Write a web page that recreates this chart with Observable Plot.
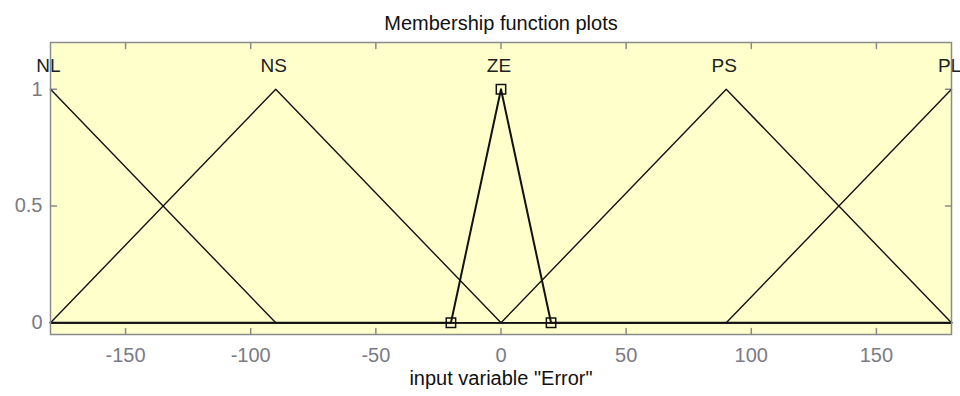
<!DOCTYPE html>
<html>
<head>
<meta charset="utf-8">
<script src="https://cdn.jsdelivr.net/npm/d3@7"></script>
<script src="https://cdn.jsdelivr.net/npm/@observablehq/plot@0.6"></script>
<style>
  html, body { margin: 0; padding: 0; background: #fff; }
  #chart svg { display: block; }
</style>
</head>
<body>
<div id="chart"></div>
<script>
// Membership functions of the input variable "Error" (triangular MFs)
const mfNames = ["NL", "NS", "ZE", "PS", "PL"];
const mfPeaks = [-180, -90, 0, 90, 180];
// Vertices of each membership curve across the universe [-180, 180]
const mfX = [
  [-180, -90, 180],
  [-180, -90, 0, 180],
  [-180, -20, 0, 20, 180],
  [-180, 0, 90, 180],
  [-180, 90, 180]
];
const mfY = [
  [1, 0, 0],
  [0, 1, 0, 0],
  [0, 0, 1, 0, 0],
  [0, 0, 1, 0],
  [0, 0, 1]
];
// Currently selected MF (ZE) is drawn with handles at its vertices
const selectedName = "ZE";
const handleX = [-20, 0, 20];
const handleY = [0, 1, 0];

const xTicks = [-150, -100, -50, 0, 50, 100, 150];
const yTicks = [0, 0.5, 1];
const xDomain = [-180, 180];
const yDomain = [-0.05, 1.2];
const labelLevel = 1.1;

const titleText = "Membership function plots";
const xLabelText = 'input variable "Error"';

// Build long-format tables for the library
const curves = mfNames.flatMap((name, i) =>
  mfX[i].map((x, j) => ({name, x, y: mfY[i][j]}))
);
const labels = mfNames.map((name, i) => ({name, x: mfPeaks[i], y: labelLevel}));
const handles = handleX.map((x, i) => ({x, y: handleY[i]}));

const font = "'Liberation Sans', Arial, sans-serif";
const axisGray = "#8a8a8a";
const tickText = "#7b7b84";
const fmt = d => String(d);

// straight tick stroke pointing along the vector direction
const tickShape = {draw(context, l) { context.moveTo(0, 0); context.lineTo(0, -l); }};
const inwardTicks = (data, opts) =>
  Plot.vector(data, {length: 6, anchor: "start", shape: tickShape, stroke: axisGray, strokeWidth: 1.5, ...opts});

const chart = Plot.plot({
  width: 960,
  height: 396,
  marginLeft: 50,
  marginRight: 9,
  marginTop: 42,
  marginBottom: 62,
  style: {fontFamily: font, fontSize: "20px", background: "#fff"},
  x: {domain: xDomain},
  y: {domain: yDomain},
  marks: [
    Plot.frame({fill: "#ffffcc", stroke: null}),
    // inward ticks on all four sides
    inwardTicks(xTicks, {x: d => d, y: yDomain[0], rotate: 0}),
    inwardTicks(xTicks, {x: d => d, y: yDomain[1], rotate: 180}),
    inwardTicks(yTicks, {y: d => d, x: xDomain[0], rotate: 90}),
    inwardTicks(yTicks, {y: d => d, x: xDomain[1], rotate: -90}),
    // tick labels
    Plot.axisX(xTicks, {anchor: "bottom", tickSize: 0, tickPadding: 13, tickFormat: fmt, fill: tickText, fontSize: 20, label: null}),
    Plot.axisY(yTicks, {anchor: "left", tickSize: 0, tickPadding: 8, tickFormat: fmt, fill: tickText, fontSize: 20, label: null}),
    // membership curves
    Plot.line(curves.filter(d => d.name !== selectedName), {x: "x", y: "y", z: "name", stroke: "#111", strokeWidth: 1.4}),
    Plot.line(curves.filter(d => d.name === selectedName), {x: "x", y: "y", z: "name", stroke: "#111", strokeWidth: 2}),
    Plot.dot(handles, {x: "x", y: "y", symbol: "square", r: 5.3, stroke: "#111", strokeWidth: 1.5, fill: "none"}),
    // MF names above each peak
    Plot.text(labels, {x: "x", y: "y", text: "name", dx: -2, fontSize: 19, fill: "#222"}),
    Plot.frame({stroke: axisGray, strokeWidth: 1.5}),
    // title and axis label
    Plot.text([titleText], {frameAnchor: "top", dy: -26.5, fontSize: 20, fill: "#111"}),
    Plot.text([xLabelText], {frameAnchor: "bottom", dy: 50, fontSize: 20, fill: "#111"})
  ]
});

document.getElementById("chart").appendChild(chart);
</script>
</body>
</html>
